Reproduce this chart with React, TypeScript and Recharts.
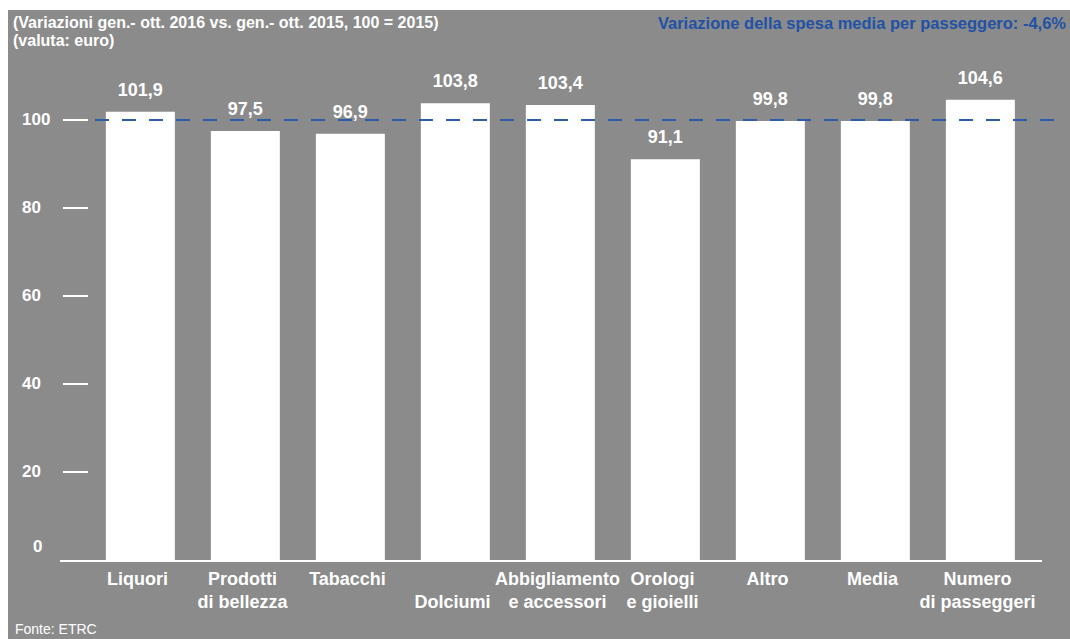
import React from "react"
import { BarChart, Bar, XAxis, YAxis, LabelList, ReferenceLine } from "recharts"

const categories = [
  "Liquori",
  "Prodotti\ndi bellezza",
  "Tabacchi",
  "\nDolciumi",
  "Abbigliamento\ne accessori",
  "Orologi\ne gioielli",
  "Altro",
  "Media",
  "Numero\ndi passeggeri",
]
const values = [101.9, 97.5, 96.9, 103.8, 103.4, 91.1, 99.8, 99.8, 104.6]
const yTicks = [0, 20, 40, 60, 80, 100]
const baseLevel = 100

const data = categories.map((name, i) => ({ name, value: values[i] }))

const FONT = '"Liberation Sans", Arial, sans-serif'
const BG = "#8b8b8b"
const BLUE = "#2d5cab"

const fmt = (v: any) => Number(v).toFixed(1).replace(".", ",")

function YTick(props: any) {
  const { x, y, payload } = props
  const zero = payload.value === 0
  return (
    <g>
      {!zero && <line x1={x} x2={x + 25} y1={y} y2={y} stroke="#fff" strokeWidth={2} />}
      <text
        x={zero ? x - 30 : x - 41}
        y={zero ? y - 8 : y + 5}
        fill="#fff"
        fontSize={17}
        fontWeight="bold"
        fontFamily={FONT}
      >
        {payload.value}
      </text>
    </g>
  )
}

function XTick(props: any) {
  const { x, y, payload } = props
  const lines = String(payload.value).split("\n")
  return (
    <text x={x - 3} y={y} fill="#fff" fontSize={18} fontWeight="bold" fontFamily={FONT} textAnchor="middle">
      {lines.map((l, i) => (
        <tspan key={i} x={x - 3} y={y + 25 + i * 23}>
          {l}
        </tspan>
      ))}
    </text>
  )
}

export default function App() {
  return (
    <div style={{ position: "fixed", left: 8, top: 10, width: 1062, height: 629, background: BG, overflow: "hidden" }}>
      <svg width={1062} height={629} style={{ position: "absolute", left: 0, top: 0 }}>
        <text x={5} y={18} fill="#fff" fontSize={16} fontWeight="bold" fontFamily={FONT}>
          (Variazioni gen.- ott. 2016 vs. gen.- ott. 2015, 100 = 2015)
        </text>
        <text x={5} y={36} fill="#fff" fontSize={16} fontWeight="bold" fontFamily={FONT}>
          (valuta: euro)
        </text>
        <text x={1058} y={19} fill="#2152a6" fontSize={16.5} fontWeight="bold" fontFamily={FONT} textAnchor="end">
          Variazione della spesa media per passeggero: -4,6%
        </text>
        <text x={7} y={624} fill="#fff" fontSize={14} fontFamily={FONT}>
          Fonte: ETRC
        </text>
      </svg>
      <div style={{ position: "absolute", left: 0, top: 0 }}>
        <BarChart
          width={1062}
          height={629}
          data={data}
          margin={{ top: 22, right: 7, bottom: 0, left: 0 }}
          barCategoryGap="17%"
        >
          <XAxis
            dataKey="name"
            height={79}
            axisLine={false}
            tickLine={false}
            tickSize={0}
            tickMargin={0}
            interval={0}
            padding={{ left: 0, right: 30 }}
            tick={<XTick />}
          />
          <YAxis
            width={80}
            domain={[0, 120]}
            ticks={yTicks}
            axisLine={false}
            tickLine={false}
            tickSize={25}
            tickMargin={0}
            tick={<YTick />}
          />
          <Bar dataKey="value" fill="#ffffff" isAnimationActive={false}>
            <LabelList
              dataKey="value"
              position="top"
              offset={16}
              fill="#fff"
              fontSize={18}
              fontWeight="bold"
              fontFamily={FONT}
              formatter={fmt}
            />
          </Bar>
          <ReferenceLine
            y={0}
            shape={(p: any) => (
              <line x1={p.x1 - 28} x2={p.x2 - 21} y1={p.y1 + 1} y2={p.y2 + 1} stroke="#fff" strokeWidth={2} />
            )}
          />
          <ReferenceLine
            y={baseLevel}
            shape={(p: any) => (
              <line
                x1={p.x1}
                x2={p.x2}
                y1={p.y1}
                y2={p.y2}
                stroke={BLUE}
                strokeWidth={2}
                strokeDasharray="14 13"
                strokeDashoffset={-7}
              />
            )}
          />
        </BarChart>
      </div>
    </div>
  )
}
